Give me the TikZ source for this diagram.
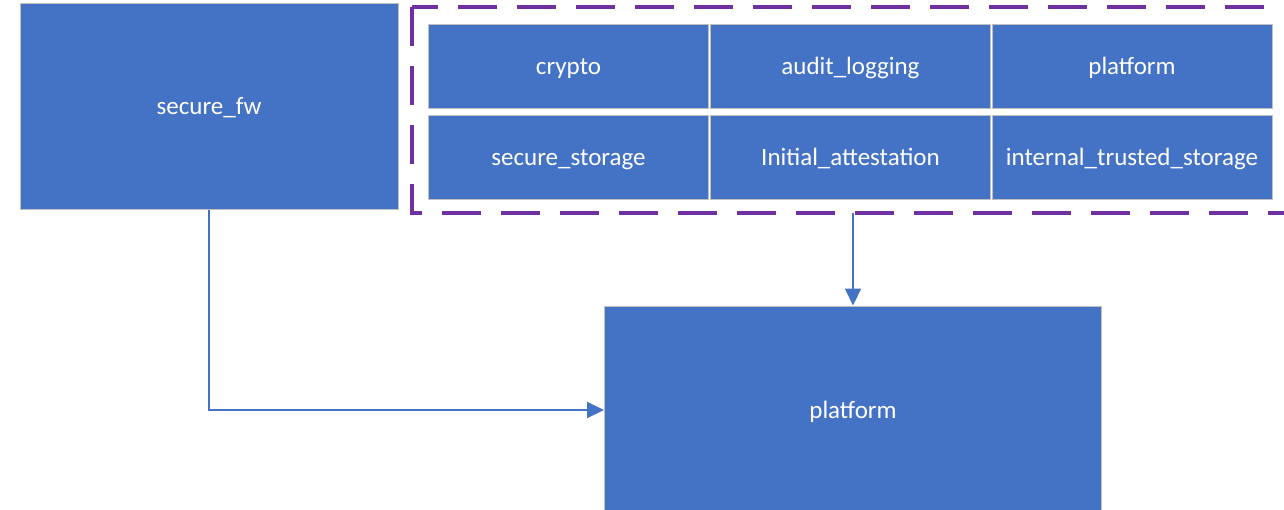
\documentclass[tikz,border=0pt]{standalone}
\usepackage{fontspec}
\setmainfont{Carlito}
\usetikzlibrary{arrows.meta}
\definecolor{boxblue}{HTML}{4472C4}
\definecolor{grpurple}{HTML}{7030A0}
\definecolor{edgegray}{HTML}{BFBFBF}
\tikzset{
  bluebox/.style={rectangle, fill=boxblue, draw=edgegray, line width=1pt, text=white, font=\fontsize{25}{30}\selectfont, inner sep=0pt, text height=17pt, text depth=1pt},
  cellbox/.style={bluebox, minimum width=280pt, minimum height=84pt},
  grpline/.style={draw=grpurple, line width=4pt, dash pattern=on 39pt off 20pt},
  conn/.style={draw=boxblue, line width=2pt, -{Triangle[length=17pt,width=16pt]}}
}
\begin{document}
\begin{tikzpicture}[x=1pt,y=-1pt]
\useasboundingbox (0,0) rectangle (1284,509);
\begin{scope}
\clip (0,0) rectangle (1284,509);
\node[bluebox, minimum width=378pt, minimum height=206pt] (fw) at (209,106) {secure\_fw};
\coordinate (gtl) at (412,7);
\coordinate (gbr) at (1340,213);
\draw[grpline] (gtl) rectangle (gbr);
\node[cellbox] (crypto) at (568.5,66) {crypto};
\node[cellbox] (audit) at (850.5,66) {audit\_logging};
\node[cellbox] (plat1) at (1132,66) {platform};
\node[cellbox] (store) at (568.5,157) {secure\_storage};
\node[cellbox] (attest) at (850.5,157) {Initial\_attestation};
\node[cellbox] (its) at (1132,157) {internal\_trusted\_storage};
\node[bluebox, minimum width=497pt, minimum height=208pt] (plat) at (853,410) {platform};
\coordinate (gout) at (gbr -| plat.north);
\draw[conn] (gout) -- (plat.north);
\draw[conn] (fw.south) |- (plat.west);
\end{scope}
\end{tikzpicture}
\end{document}
